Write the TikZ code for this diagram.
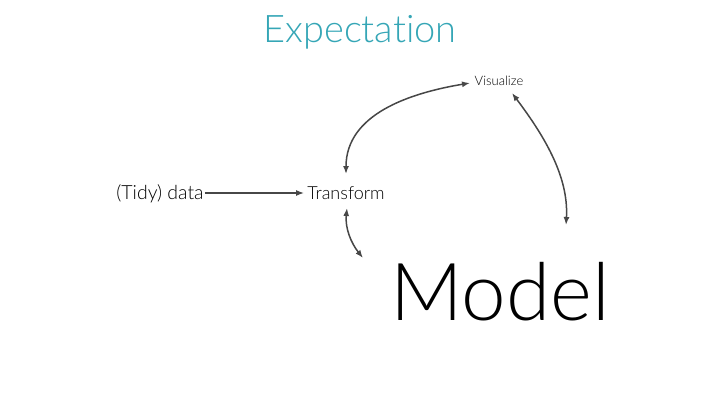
\documentclass[tikz,border=0pt]{standalone}
\usepackage{fontspec}
\setmainfont{Lato}[UprightFont=* Light, RawFeature={-liga;-dlig;-clig;-calt}]
\usetikzlibrary{arrows.meta}
\definecolor{teal}{HTML}{35A6B6}
\definecolor{arr}{HTML}{474747}
\tikzset{
  lbl/.style={anchor=base, inner sep=0pt, text=black},
  tip/.tip={Latex[length=8pt,width=6pt]},
  con/.style={draw=arr, line width=1.5pt, arrows={-tip}},
  bicon/.style={con, arrows={tip-tip}}
}
\begin{document}
\begin{tikzpicture}[x=1pt,y=-1pt]
\useasboundingbox (0,0) rectangle (720,405);
\node[lbl, text=teal, font=\fontsize{38}{40}\selectfont] (title) at (360,42) {Expectat\kern0pt ion};
\node[lbl, font=\fontsize{19.5}{22}\selectfont] (data) at (160,199) {(Tidy) data};
\node[lbl, font=\fontsize{18}{20}\selectfont] (trans) at (346,199) {Transform};
\node[lbl, font=\fontsize{13}{15}\selectfont] (vis) at (499,85) {Visualize};
\node[lbl, font=\fontsize{80}{90}\selectfont] (model) at (500,320) {Model};
\draw[con] ([xshift=1pt,yshift=6pt]data.base east) -- ([xshift=-3pt,yshift=6pt]trans.base west);
\draw[bicon] ([yshift=25pt]trans.base) .. controls ++(0,-60) and ++(-60,10) .. ([xshift=-29pt,yshift=2pt]vis.base);
\draw[bicon] ([xshift=13pt,yshift=-8pt]vis.base) .. controls ++(30,40) and ++(3,-50) .. ([xshift=66pt,yshift=95pt]model.base);
\draw[bicon] ([xshift=1pt,yshift=-9pt]trans.base) .. controls ++(-2,20) and ++(-12,-15) .. ([xshift=-137pt,yshift=62pt]model.base);
\end{tikzpicture}
\end{document}
